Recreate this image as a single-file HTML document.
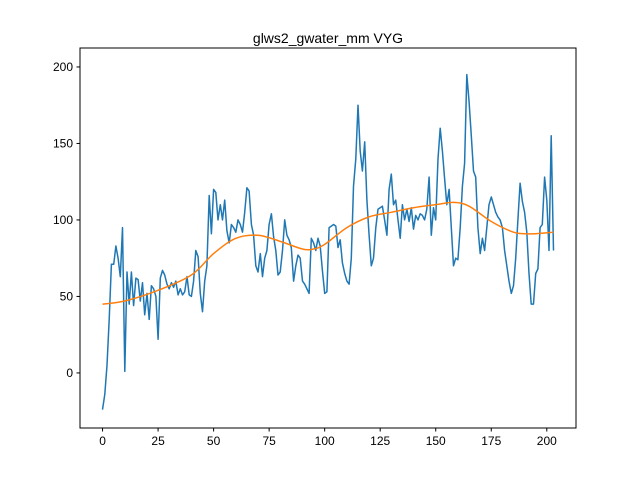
<!DOCTYPE html>
<html><head><meta charset="utf-8"><style>
body{margin:0;background:#fff;}
svg{display:block;font-family:"Liberation Sans","DejaVu Sans",sans-serif;}
</style></head><body>
<svg id="chart" width="640" height="480">
<rect width="640" height="480" fill="#fff"/>
<text x="328" y="43" text-anchor="middle" font-size="14">glws2_gwater_mm VYG</text>
<g id="grid"></g>
<g id="series"></g>
<rect x="80" y="48" width="496" height="380" fill="none" stroke="#000" stroke-width="1"/>
</svg>
<script>
const seriesValues=[-24,-14,5,35,71,71,83,75,63,95,1,66,45,66,44,62,61,47,59,38,52,35,57,55,50,22,62,67,64,58,55,59,56,60,51,55,51,53,63,51,50,60,80,76,52,40,60,70,116,91,120,118,100,110,100,113,93,85,97,95,92,100,97,92,105,121,119,97,90,70,66,78,63,75,80,97,104,89,80,64,66,80,100,90,87,82,60,70,77,75,60,58,55,52,88,85,80,88,83,67,52,53,95,96,97,96,82,87,72,65,60,58,75,122,140,175,145,132,151,113,90,70,75,95,107,108,109,100,90,120,130,110,113,100,88,110,100,107,99,108,94,103,100,104,103,100,107,128,90,108,100,140,160,145,127,110,120,95,70,75,74,95,122,137,195,178,155,132,128,95,78,88,80,95,110,115,110,105,102,100,95,80,70,60,52,57,75,100,124,112,105,92,65,45,45,65,68,95,97,128,113,80,155,80];
const trendX=[0,10,25,40,50,60,70,80,90,95,100,110,120,130,140,150,158,165,175,185,190,195,203];
const trendY=[45,47,54,64,78,88,90,86,81,81,84,95,102,105,108,110,111.5,109,99,92,91,91,92];
const yTicks=[0,50,100,150,200];
const xTicks=[0,25,50,75,100,125,150,175,200];
const X0=80,X1=576,Y0=428,Y1=48,xmin=-10.15,xmax=213.15,ymin=-36,ymax=212.4;
const sx=v=>X0+(v-xmin)/(xmax-xmin)*(X1-X0);
const sy=v=>Y0-(v-ymin)/(ymax-ymin)*(Y0-Y1);
const NS="http://www.w3.org/2000/svg";
const g=document.getElementById('grid'),s=document.getElementById('series');
function mk(tag,attrs,parent){const e=document.createElementNS(NS,tag);for(const k in attrs)e.setAttribute(k,attrs[k]);parent.appendChild(e);return e;}
yTicks.forEach(t=>{const y=sy(t);
 const l=mk('line',{x1:X0-3.5,x2:X0,y1:y,y2:y,stroke:'#000'},g);
 
 
 const tx=mk('text',{x:X0-7,y:y+4,'text-anchor':'end','font-size':'12'},g);tx.textContent=t;
 
 });
xTicks.forEach(t=>{const x=sx(t);
 const l=mk('line',{x1:x,x2:x,y1:Y0,y2:Y0+3.5,stroke:'#000'},g);
 
 
 const tx=mk('text',{x:x,y:Y0+17,'text-anchor':'middle','font-size':'12'},g);tx.textContent=t;
 
 });
const pts=seriesValues.map((v,i)=>sx(i).toFixed(1)+','+sy(v).toFixed(1)).join(' ');
const pl=mk('polyline',{points:pts,fill:'none',stroke:'#1f77b4','stroke-width':1.5,'stroke-linejoin':'round'},s);


const P=trendX.map((x,i)=>[sx(x),sy(trendY[i])]);
let d='M'+P[0][0]+','+P[0][1];
for(let i=0;i<P.length-1;i++){const p0=P[Math.max(0,i-1)],p1=P[i],p2=P[i+1],p3=P[Math.min(P.length-1,i+2)];
 d+=' C'+(p1[0]+(p2[0]-p0[0])/6)+','+(p1[1]+(p2[1]-p0[1])/6)+' '+(p2[0]-(p3[0]-p1[0])/6)+','+(p2[1]-(p3[1]-p1[1])/6)+' '+p2[0]+','+p2[1];}
const tp=mk('path',{d:d,fill:'none',stroke:'#ff7f0e','stroke-width':1.5},s);


</script>
</body></html>
